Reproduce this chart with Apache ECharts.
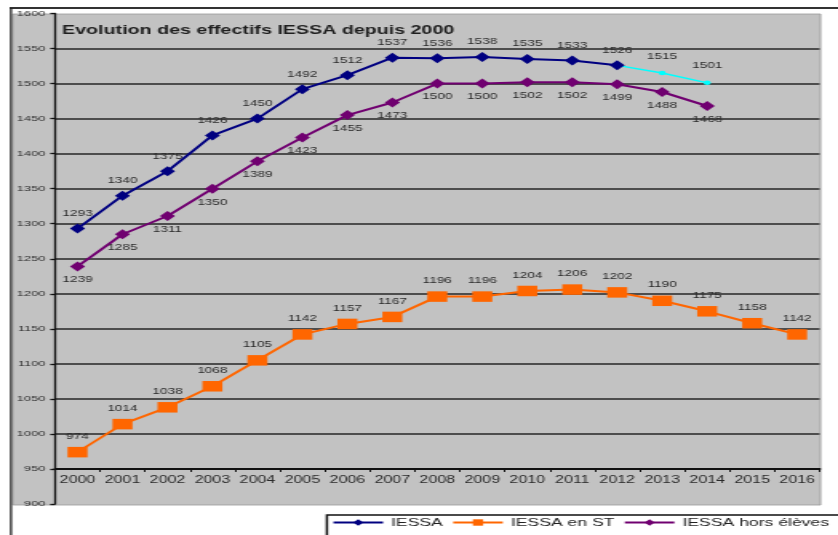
<!DOCTYPE html>
<html>
<head>
<meta charset="utf-8">
<script src="https://cdn.jsdelivr.net/npm/echarts@6/dist/echarts.min.js"></script>
<style>
  html, body { margin: 0; padding: 0; background: #fff; overflow: hidden; }
  /* the chart is laid out narrow and stretched horizontally */
  #chart { width: 524px; height: 535px; transform: scaleX(1.5992); transform-origin: 0 0; }
</style>
</head>
<body>
<div id="chart"></div>
<script>
const years = ['2000','2001','2002','2003','2004','2005','2006','2007','2008','2009','2010','2011','2012','2013','2014','2015','2016'];
const iessa = [1293, 1340, 1375, 1426, 1450, 1492, 1512, 1537, 1536, 1538, 1535, 1533, 1526];
const iessaPrevision = [1526, 1515, 1501]; // 2012 -> 2014
const iessaEnST = [974, 1014, 1038, 1068, 1105, 1142, 1157, 1167, 1196, 1196, 1204, 1206, 1202, 1190, 1175, 1158, 1142];
const iessaHorsEleves = [1239, 1285, 1311, 1350, 1389, 1423, 1455, 1473, 1500, 1500, 1502, 1502, 1499, 1488, 1468];
const yTicks = { min: 900, max: 1600, step: 50 };

const FONT = 'Liberation Sans, Arial, sans-serif';
const prevStart = 12;
const prevData = years.map((y, i) => (i >= prevStart && i < prevStart + iessaPrevision.length) ? iessaPrevision[i - prevStart] : null);

const labelStyle = { fontFamily: FONT, fontSize: 8.5, color: '#2b2b2b' };
const yUnit = 490.5 / (yTicks.max - yTicks.min);

const chart = echarts.init(document.getElementById('chart'));
chart.setOption({
  animation: false,
  backgroundColor: '#fff',
  title: {
    text: 'Evolution des effectifs IESSA depuis 2000',
    left: 38.8, top: 25, padding: 0,
    textStyle: { fontFamily: FONT, fontSize: 12.3, fontWeight: 'bold', color: '#1e1e1e' }
  },
  grid: { left: 34.4, right: 11.5, top: 13.5, bottom: 31 },
  graphic: [
    { type: 'rect', z: -10, silent: true, shape: { x: 8.1, y: 14, width: 505, height: 491 },
      style: { fill: '#c2c2c2', stroke: '#9a9a9a', lineWidth: 0.8 } },
    { type: 'line', z: 10, silent: true, shape: { x1: 6, y1: 8, x2: 524, y2: 8 },
      style: { stroke: '#333', lineWidth: 2 } },
    { type: 'line', z: 10, silent: true, shape: { x1: 6.9, y1: 8, x2: 6.9, y2: 535 },
      style: { stroke: '#222', lineWidth: 1.3 } },
    { type: 'rect', z: 5, silent: true, shape: { x: 204.4, y: 515, width: 400, height: 40 },
      style: { fill: '#fff', stroke: '#111', lineWidth: 1.5 } }
  ],
  legend: {
    data: ['IESSA', 'IESSA en ST', 'IESSA hors élèves'],
    left: 207.5, top: 517, padding: 0, z: 20,
    itemWidth: 31, itemHeight: 8, itemGap: 5.5,
    textStyle: { fontFamily: FONT, fontSize: 11, color: '#222' }
  },
  xAxis: {
    type: 'category',
    data: years,
    boundaryGap: true,
    offset: -(yTicks.step * yUnit),
    axisLine: { lineStyle: { color: '#111', width: 1.8 } },
    axisTick: { show: true, length: 3, interval: 0, lineStyle: { color: '#111', width: 1 } },
    axisLabel: { interval: 0, margin: 6.5, fontFamily: FONT, fontSize: 10, color: '#2a2a2a' },
    splitLine: { show: false }
  },
  yAxis: {
    type: 'value',
    min: yTicks.min, max: yTicks.max, interval: yTicks.step,
    axisLine: { show: true, lineStyle: { color: '#111', width: 1.3 } },
    axisTick: { show: true, length: 3, lineStyle: { color: '#111', width: 1.3 } },
    axisLabel: { margin: 6, fontFamily: FONT, fontSize: 8, color: '#2e2e2e', formatter: v => String(v) },
    splitLine: { show: true, showMinLine: false, showMaxLine: false,
      lineStyle: { color: '#262626', width: 1.6 } }
  },
  series: [
    {
      name: 'IESSA prévision', type: 'line', data: prevData, connectNulls: false,
      symbol: 'circle', symbolSize: 4.5, showSymbol: true, showAllSymbol: true,
      lineStyle: { color: '#00ffff', width: 1.5 }, itemStyle: { color: '#00ffff' },
      label: { show: true, position: 'top', distance: 10, ...labelStyle,
        formatter: p => p.dataIndex === prevStart ? '' : p.value },
      z: 2
    },
    {
      name: 'IESSA', type: 'line', data: iessa,
      symbol: 'diamond', symbolSize: [9.5, 10],
      lineStyle: { color: '#000080', width: 2 }, itemStyle: { color: '#000080' },
      label: { show: true, position: 'top', distance: 5.5, ...labelStyle },
      z: 3
    },
    {
      name: 'IESSA en ST', type: 'line', data: iessaEnST,
      symbol: 'rect', symbolSize: [12.5, 10.5],
      lineStyle: { color: '#ff6600', width: 2 }, itemStyle: { color: '#ff6600' },
      label: { show: true, position: 'top', distance: 6, ...labelStyle },
      z: 3
    },
    {
      name: 'IESSA hors élèves', type: 'line', data: iessaHorsEleves,
      symbol: 'diamond', symbolSize: [9.5, 10],
      lineStyle: { color: '#700070', width: 2 }, itemStyle: { color: '#700070' },
      label: { show: true, position: 'bottom', distance: 4, ...labelStyle },
      z: 3
    }
  ]
});
</script>
</body>
</html>
